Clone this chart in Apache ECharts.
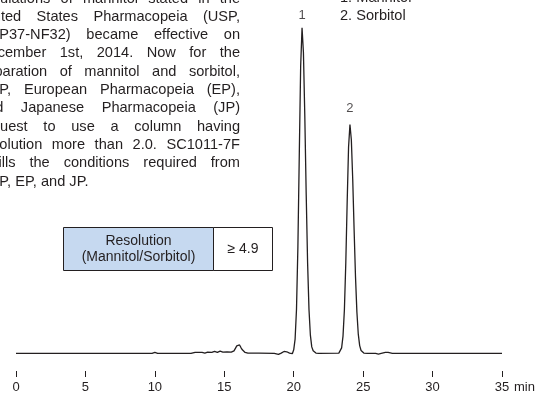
<!DOCTYPE html>
<html>
<head>
<meta charset="utf-8">
<script src="https://cdn.jsdelivr.net/npm/echarts@6/dist/echarts.min.js"></script>
<style>
  html, body { margin: 0; padding: 0; background: #ffffff; }
  #chart { width: 540px; height: 394px; }
</style>
</head>
<body>
<div id="chart"></div>
<script>
// Chromatogram trace: retention time (min) and detector response (peak 1 = 100)
const timeMin = [
  0, 9.8, 10.0, 10.2, 12.6, 12.9, 13.4, 13.6, 13.8, 14.1, 14.3, 14.5, 14.7, 14.9, 15.2, 15.5,
  15.6, 15.7, 15.8, 15.9, 16.0, 16.1, 16.2, 16.3, 16.4, 16.5, 16.7, 17.5, 18.6, 18.9, 19.1,
  19.3, 19.5, 19.7, 19.9,
  20.0, 20.1, 20.2, 20.3, 20.4, 20.5, 20.6, 20.7, 20.8, 20.9, 21.0, 21.1, 21.2, 21.3, 21.4,
  21.5, 21.6, 21.8,
  23.25, 23.45, 23.55, 23.65, 23.75, 23.85, 23.95, 24.05, 24.15, 24.25, 24.35, 24.45, 24.55,
  24.65, 24.75, 24.85, 24.95, 25.05, 25.3,
  25.9, 26.1, 26.3, 26.6, 26.8, 27.1, 35
];
const response = [
  0, 0, 0.3, 0, 0, 0.3, 0.3, 0.1, 0.4, 0.3, 0.6, 0.3, 0.7, 0.4, 0.5, 0.4,
  0.5, 0.8, 1.4, 2.3, 2.9, 2.6, 1.8, 1.1, 0.6, 0.3, 0.1, 0.1, 0, -0.3, 0.1,
  0.6, 0.5, 0.1, -0.1,
  1.1, 4.4, 13.5, 32.5, 60.7, 88.2, 100, 92.3, 72.6, 48.7, 27.8, 13.5, 5.6, 2.0, 0.8,
  0.3, 0.1, 0,
  0.1, 1.7, 5.3, 13.4, 27.7, 46.5, 63.4, 70.3, 65.6, 53.4, 37.9, 23.5, 12.7,
  5.9, 2.4, 0.9, 0.3, 0.1, 0,
  0, -0.2, 0, 0.3, 0.3, 0, 0
];

// Peak numbering
const peakNames = ['1', '2'];
const peakTimes = [20.6, 24.05];
const peakHeights = [100, 70.3];

// Compound key
const legendLines = ['1. Mannitol', '2. Sorbitol'];

// Resolution table
const resolutionHeader = ['Resolution', '(Mannitol/Sorbitol)'];
const resolutionValue = '\u2265 4.9';

// Description paragraph, one entry per typeset line
const paragraphLines = [
  'regulations of mannitol stated in the',
  'United States Pharmacopeia (USP,',
  'USP37-NF32) became effective on',
  'December 1st, 2014. Now for the',
  'separation of mannitol and sorbitol,',
  'USP, European Pharmacopeia (EP),',
  'and Japanese Pharmacopeia (JP)',
  'request to use a column having',
  'resolution more than 2.0. SC1011-7F',
  'fulfills the conditions required from',
  'USP, EP, and JP.'
];

const ink = '#231f20';
const fontFamily = '"Liberation Sans", Arial, Helvetica, sans-serif';

function textEl(text, x, y, size, align) {
  return {
    type: 'text', silent: true,
    style: { text: text, x: x, y: y, font: size + 'px ' + fontFamily, fill: ink,
             textAlign: align, textVerticalAlign: 'middle', align: align, verticalAlign: 'middle' }
  };
}

// Justify paragraph lines word by word
const measureCtx = document.createElement('canvas').getContext('2d');
function justifiedLine(text, left, right, y, fontSize, justify) {
  measureCtx.font = fontSize + 'px ' + fontFamily;
  const words = text.split(' ');
  const widths = words.map(w => measureCtx.measureText(w).width);
  const total = widths.reduce((a, b) => a + b, 0);
  const gap = (justify && words.length > 1)
    ? (right - left - total) / (words.length - 1)
    : measureCtx.measureText(' ').width;
  const out = [];
  let x = left;
  words.forEach((w, i) => {
    out.push(textEl(w, x, y, fontSize, 'left'));
    x += widths[i] + gap;
  });
  return out;
}

const paraSize = 14.6;
const paraLeft = -21, paraRight = 240, paraTop = -1.5, paraStep = 18.3;
let graphics = [];
paragraphLines.forEach((line, i) => {
  const last = i === paragraphLines.length - 1;
  graphics = graphics.concat(justifiedLine(line, paraLeft, paraRight, paraTop + i * paraStep, paraSize, !last));
});

legendLines.forEach((txt, i) => {
  graphics.push(textEl(txt, 340, -2.5 + i * 18.1, paraSize, 'left'));
});

// Resolution box
graphics.push(
  { type: 'rect', silent: true, shape: { x: 63.5, y: 227.5, width: 150, height: 43 },
    style: { fill: '#c6d9f0', stroke: ink, lineWidth: 1 } },
  { type: 'rect', silent: true, shape: { x: 213.5, y: 227.5, width: 59, height: 43 },
    style: { fill: '#ffffff', stroke: ink, lineWidth: 1 } },
  textEl(resolutionHeader[0], 138.5, 241, 14, 'center'),
  textEl(resolutionHeader[1], 138.5, 257, 14, 'center'),
  textEl(resolutionValue, 243, 249, 14, 'center'),
  // axis unit
  textEl('min', 514, 387, 13, 'left')
);

const trace = timeMin.map((t, i) => [t, response[i]]);
const labelGaps = [6, 10];
const peakPoints = peakTimes.map((t, i) => ({
  value: [t, peakHeights[i]], name: peakNames[i], label: { distance: labelGaps[i] }
}));

const chart = echarts.init(document.getElementById('chart'), null, { renderer: 'canvas' });
chart.setOption({
  animation: false,
  backgroundColor: '#ffffff',
  grid: { left: 16, right: 38, top: 14.7, bottom: 22.9, containLabel: false },
  xAxis: {
    type: 'value', min: 0, max: 35, interval: 5,
    axisLine: { show: false, onZero: false },
    axisTick: { show: true, inside: false, length: 6, lineStyle: { color: ink, width: 1 } },
    axisLabel: { color: ink, fontSize: 13, fontFamily: fontFamily, margin: 10 },
    splitLine: { show: false }
  },
  yAxis: {
    type: 'value', min: -5.4, max: 104, show: false,
    splitLine: { show: false }
  },
  series: [
    {
      type: 'line', data: trace, showSymbol: false, smooth: false,
      lineStyle: { color: ink, width: 1.3 }, silent: true
    },
    {
      type: 'scatter', data: peakPoints, symbolSize: 0, silent: true,
      label: { show: true, position: 'top', formatter: p => p.name,
               color: ink, fontSize: 13, fontFamily: fontFamily }
    }
  ],
  graphic: graphics
});
</script>
</body>
</html>
